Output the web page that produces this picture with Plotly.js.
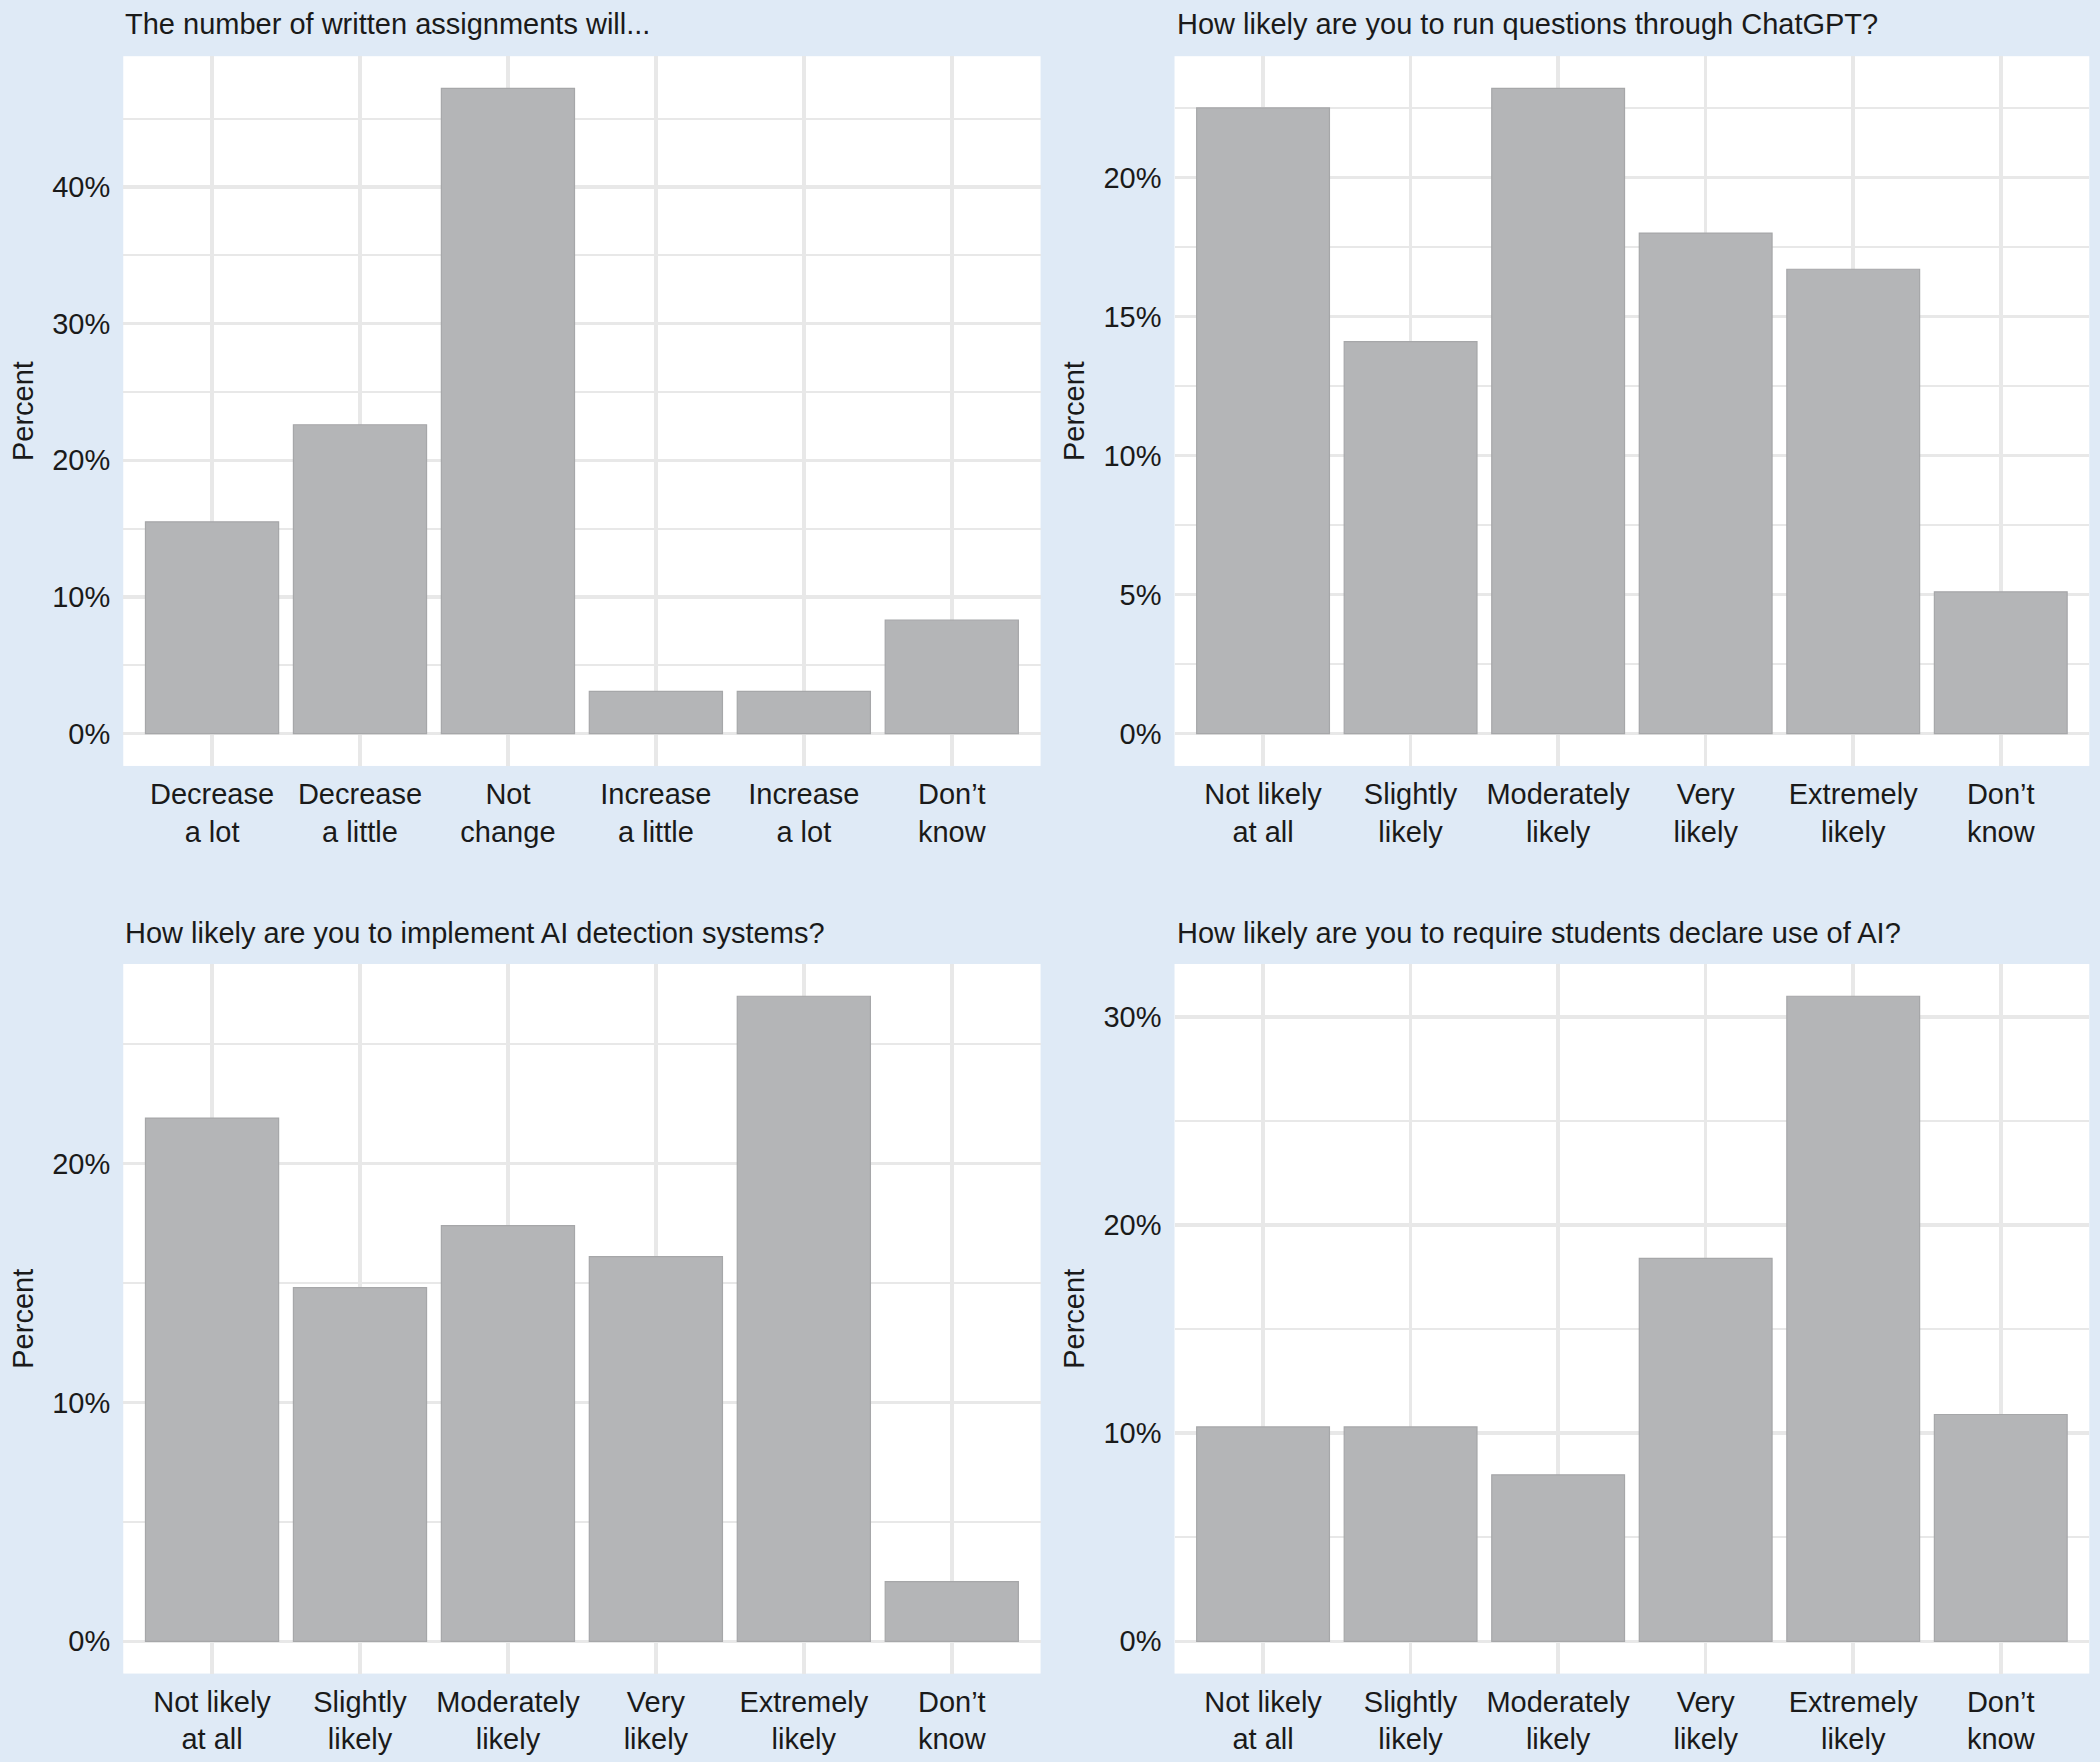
<!DOCTYPE html>
<html><head><meta charset="utf-8">
<script src="https://cdn.plot.ly/plotly-3.0.1.min.js"></script>
<style>html,body{margin:0;padding:0;background:#dfeaf6;}</style>
</head><body>
<div id="chart" style="width:2100px;height:1762px;"></div>
<script>
const catsChange = ["Decrease<br>a lot","Decrease<br>a little","Not<br>change","Increase<br>a little","Increase<br>a lot","Don’t<br>know"];
const catsLikely = ["Not likely<br>at all","Slightly<br>likely","Moderately<br>likely","Very<br>likely","Extremely<br>likely","Don’t<br>know"];
const assignments = [15.5, 22.6, 47.2, 3.1, 3.1, 8.3];
const chatgpt = [22.5, 14.1, 23.2, 18.0, 16.7, 5.1];
const detection = [21.9, 14.8, 17.4, 16.1, 27.0, 2.5];
const declare = [10.3, 10.3, 8.0, 18.4, 31.0, 10.9];
const titles = ["The number of written assignments will...","How likely are you to run questions through ChatGPT?","How likely are you to implement AI detection systems?","How likely are you to require students declare use of AI?"];
const yTitle = "Percent";
const majorStep = [10, 5, 10, 10];

const panels = [
  {cats: catsChange, vals: assignments},
  {cats: catsLikely, vals: chatgpt},
  {cats: catsLikely, vals: detection},
  {cats: catsLikely, vals: declare}
];
const FONT = "Liberation Sans, Arial, Helvetica, sans-serif";
const FS = 29;
const TXT = "#1a1a1a";
const GRID = "#e8e8e8";
const xDom = [[0.0587, 0.4955], [0.5593, 0.9949]];
const yDom = [[0.5653, 0.9681], [0.0502, 0.4529]];
const titleY = [0.9864, 0.4705];

const data = [];
const layout = {
  width: 2100, height: 1762,
  margin: {l: 0, r: 0, t: 0, b: 0},
  paper_bgcolor: "#dfeaf6", plot_bgcolor: "#ffffff",
  showlegend: false,
  font: {family: FONT, size: FS, color: TXT},
  annotations: []
};
panels.forEach((p, i) => {
  const n = i + 1;
  const col = i % 2, row = Math.floor(i / 2);
  const xa = n === 1 ? "x" : "x" + n, ya = n === 1 ? "y" : "y" + n;
  data.push({
    type: "bar", x: p.cats, y: p.vals, xaxis: xa, yaxis: ya,
    marker: {color: "#b4b5b7", line: {color: "#a6a7a9", width: 1.2}},
    hoverinfo: "skip"
  });
  const mx = Math.max(...p.vals);
  const step = majorStep[i];
  layout["xaxis" + (n === 1 ? "" : n)] = {
    domain: xDom[col], anchor: ya, type: "category",
    range: [-0.6, p.cats.length - 0.4],
    showgrid: true, gridcolor: GRID, gridwidth: 3.5,
    showline: false, zeroline: false, ticks: "",
    ticklabelstandoff: 8,
    tickfont: {family: FONT, size: FS, color: TXT}
  };
  layout["yaxis" + (n === 1 ? "" : n)] = {
    domain: yDom[row], anchor: xa,
    range: [-0.05 * mx, 1.05 * mx],
    dtick: step, tick0: 0, ticksuffix: "%",
    showgrid: true, gridcolor: GRID, gridwidth: 3.5,
    minor: {dtick: step / 2, tick0: 0, showgrid: true, gridcolor: GRID, gridwidth: 2},
    zeroline: false, showline: false, ticks: "",
    ticklabelstandoff: 12,
    tickfont: {family: FONT, size: FS, color: TXT},
    title: {text: yTitle, font: {family: FONT, size: FS, color: TXT}, standoff: 10}
  };
  layout.annotations.push({
    xref: "paper", yref: "paper", x: xDom[col][0], y: titleY[row],
    xanchor: "left", yanchor: "middle", showarrow: false,
    text: titles[i], font: {family: FONT, size: FS, color: TXT}
  });
});
layout.bargap = 0.1;
Plotly.newPlot("chart", data, layout, {displayModeBar: false, staticPlot: true});
</script>
</body></html>
